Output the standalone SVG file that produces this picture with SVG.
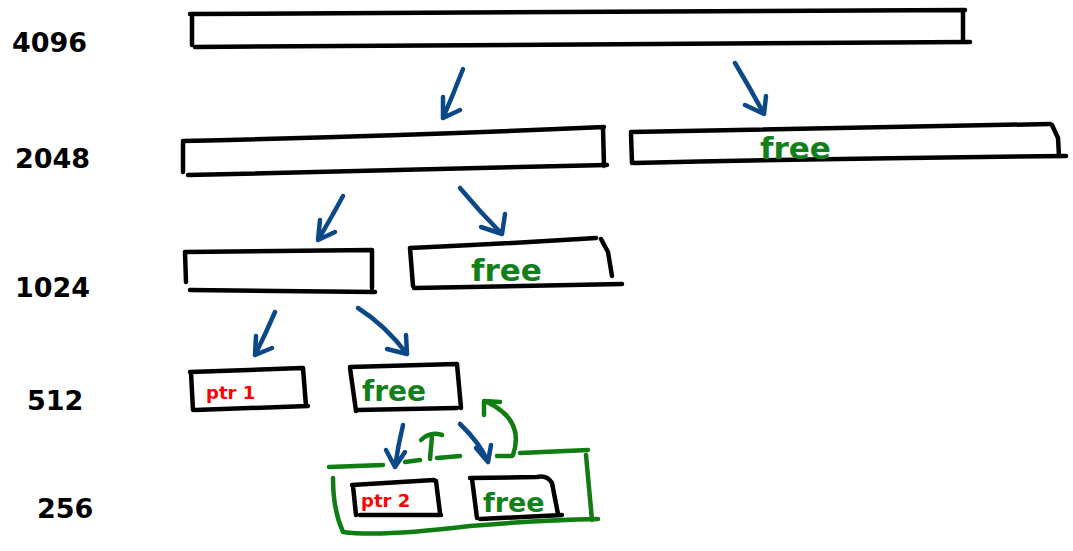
<svg xmlns="http://www.w3.org/2000/svg" width="1073" height="551" viewBox="0 0 1073 551">
<style>
.box{fill:none;stroke:#000;stroke-width:4.5;stroke-linecap:round;stroke-linejoin:round}
.blue{fill:none;stroke:#0b4887;stroke-width:4.5;stroke-linecap:round;stroke-linejoin:round}
.green{fill:none;stroke:#0f7d12;stroke-width:4.5;stroke-linecap:round;stroke-linejoin:round}
.size{font-family:"DejaVu Sans",sans-serif;font-weight:bold;font-size:27px;fill:#000}
.free{font-family:"DejaVu Sans",sans-serif;font-weight:bold;font-size:31px;fill:#12801a}
.ptr{font-family:"DejaVu Sans",sans-serif;font-weight:bold;font-size:18px;fill:#f00}
</style>
<rect width="1073" height="551" fill="#fff"/>
<g id="labels">
<text class="size" x="12" y="52">4096</text>
<text class="size" x="15" y="168">2048</text>
<text class="size" x="15" y="297">1024</text>
<text class="size" x="27" y="410">512</text>
<text class="size" x="37" y="518">256</text>
</g>
<g id="n4096"><path class="box" d="M190 14 Q580 12 965 10 M192 14 L192 45 M963 11 L963 40 M195 47 Q580 44 970 42"/></g>
<g id="n2048a"><path class="box" d="M183 141 Q400 136 604 127 M183 143 L183 172 M603 128 L604 166 M188 175 Q400 170 607 165"/></g>
<g id="n2048b"><path class="box" d="M631 132 L1050 124 M631 134 L632 163 M1052 125 L1058 138 L1059 156 M634 163 Q850 158 1066 156"/><text class="free" x="760" y="159">free</text></g>
<g id="n1024a"><path class="box" d="M186 252 L372 250 M185 252 L186 282 M372 251 L372 288 M190 290 L375 292"/></g>
<g id="n1024b"><path class="box" d="M410 248 Q500 244 596 238 M410 248 L413 286 M601 239 L608 252 L612 276 M414 288 L622 284"/><text class="free" x="471" y="281">free</text></g>
<g id="n512a"><path class="box" d="M190 372 L302 368 M191 373 L193 410 M303 368 L306 406 M195 410 L308 406"/><text class="ptr" x="206" y="399">ptr 1</text></g>
<g id="n512b"><path class="box" d="M350 367 L456 364 M350 368 L356 411 M457 364 L461 408 M357 410 L457 408"/><text class="free" x="362" y="401" style="font-size:28px">free</text></g>
<g id="n256a"><path class="box" d="M352 485 L434 480 M353 486 L356 515 M436 481 L440 513 M360 515 L441 515"/><text class="ptr" x="361" y="507">ptr 2</text></g>
<g id="n256b"><path class="box" d="M470 478 L537 477 Q547 475 552 483 L558 514 M472 479 L477 518 M480 519 L562 515"/><text class="free" x="483" y="512" style="font-size:27px">free</text></g>
<g id="group256"><path class="green" d="M329 467 L383 465 M405 462 L420 460 M437 458 L460 456 M497 456 L512 456 M520 453 L588 450 M333 478 Q333 510 343 532 Q380 537 470 526 Q540 520 598 519 M586 455 L592 520"/></g>
<g id="connectors">
<path class="blue" d="M463 69 Q453 95 443 118 M443 118 L443 97 M443 118 L460 110"/>
<path class="blue" d="M735 63 Q750 88 764 114 M764 114 L745 105 M764 114 L766 96"/>
<path class="blue" d="M343 196 Q330 220 318 240 M318 240 L320 220 M318 240 L335 232"/>
<path class="blue" d="M460 188 Q480 212 502 234 M502 234 L481 227 M502 234 L505 214"/>
<path class="blue" d="M275 312 Q265 335 255 355 M255 355 L256 336 M255 355 L272 348"/>
<path class="blue" d="M358 308 Q385 325 407 354 M407 354 L387 349 M407 354 L406 335"/>
<path class="blue" d="M403 425 Q398 446 395 467 M395 467 L386 450 M395 467 L405 452"/>
<path class="blue" d="M460 424 Q480 443 488 462 M488 462 L476 448 M488 462 L491 445"/>
<path class="green" d="M430 459 L432 436 M421 440 Q430 431 442 435"/>
<path class="green" d="M513 455 Q525 420 487 402 M484 415 L484 401 L500 402"/>
</g>
</svg>
